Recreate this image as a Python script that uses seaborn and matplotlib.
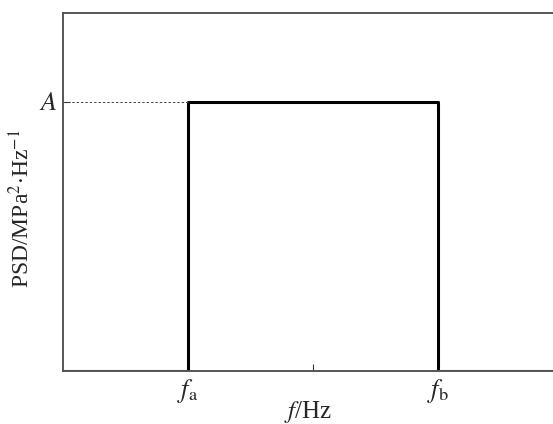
import numpy as np
import pandas as pd
import matplotlib
matplotlib.use("Agg")
import matplotlib.pyplot as plt
import seaborn as sns

# band-limited white noise PSD: flat level A between fa and fb
f_start = 0.0
f_a = 1.0
f_b = 3.0
f_end = 3.92
level_A = 1.0

freq = [f_start, f_a, f_a, f_b, f_b, f_end]
psd = [0.0, 0.0, level_A, level_A, 0.0, 0.0]

x_ticks = [f_a, (f_a + f_b) / 2, f_b]
x_ticklabels = [r"$f_{\mathrm{a}}$", "", r"$f_{\mathrm{b}}$"]
y_ticks = [level_A]
y_ticklabels = [r"$A$"]

sns.set_theme(style="white")
plt.rcParams["font.family"] = ["Liberation Serif", "DejaVu Serif"]
plt.rcParams["mathtext.fontset"] = "stix"

fig = plt.figure(figsize=(5.53, 4.24), dpi=100)
ax = fig.add_axes([63 / 553, 53 / 424, 490 / 553, 358 / 424])

df = pd.DataFrame({"f": freq, "psd": psd})
sns.lineplot(data=df, x="f", y="psd", sort=False, color="black",
             linewidth=2.2, ax=ax, estimator=None)

# dashed guide to the A level
ax.plot([f_start, f_a], [level_A, level_A], color="#444444",
        linestyle=(0, (2.5, 2)), linewidth=0.7)

ax.set_xlim(f_start, f_end)
ax.set_ylim(0, 1.33)
ax.set_xticks(x_ticks)
ax.set_xticklabels(x_ticklabels, fontsize=19)
ax.set_yticks(y_ticks)
ax.set_yticklabels(y_ticklabels, fontsize=19)
ax.tick_params(axis="both", direction="in", length=5, width=0.8,
               color="#333333", pad=4, bottom=True, left=True)

ax.set_xlabel(r"$f$/Hz", fontsize=18, labelpad=-4)
ax.set_ylabel(r"PSD/MPa$^{2}$$\cdot$Hz$^{\mathrm{-1}}$", fontsize=17)
ax.yaxis.set_label_coords(-0.058, 0.455)

for side in ["left", "bottom", "top"]:
    ax.spines[side].set_color("#555555")
    ax.spines[side].set_linewidth(1.4)
ax.spines["right"].set_visible(False)

fig.savefig("out.png", dpi=100)
